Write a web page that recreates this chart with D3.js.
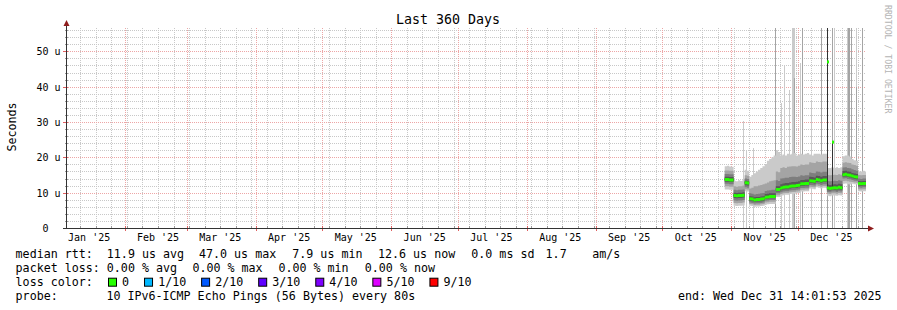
<!DOCTYPE html>
<html><head><meta charset="utf-8">
<script src="https://cdn.jsdelivr.net/npm/d3@7"></script>
<style>
html,body{margin:0;padding:0;background:#fff;}
svg text{font-family:"DejaVu Sans Mono",monospace;white-space:pre;fill:#000;}
</style></head><body>
<svg id="c" width="897" height="310"></svg>
<script>
// ---------------- data ----------------
const title = "Last 360 Days";
const yAxisTitle = "Seconds";
const watermark = "RRDTOOL / TOBI OETIKER";
const startTime = Date.UTC(2025,0,5,14,1,53);
const endTime = Date.UTC(2025,11,31,14,1,53);
const firstDay = Date.UTC(2025,9,29);          // first daily sample (Oct 29)
const yMax = 56.6;
const yTicks = [0,10,20,30,40,50];
const yTickLabels = ["0  ","10 u","20 u","30 u","40 u","50 u"];

// median rtt per day (us)
const med = [13.7,13.7,13.6,13.6, 9.2,9.1,9.2,9.2,9.3, 12.8,12.7, 8.3,8.2,7.9,8.1,8.1,8.2,8.3, 8.7,8.8,8.9,8.9,8.9, 10.9,10.9, 11.3,11.5,11.6,11.6,11.8,11.9,11.9, 12.0,12.1,12.5,12.5,12.6,12.6, 13.4,13.3,13.2, 13.7,13.6,13.4,13.6, 13.6, 11.3,11.2,11.3,11.4,11.3,11.5,11.4, 15.1,15.2,15.0,14.9, 14.7,14.5,14.4, 12.6,12.5,12.6,12.6];
// sorted ping values per day (p1 = fastest ... p10 = slowest)
const p1 = [10.9,10.9,10.8,10.8, 6.3,6.2,6.3,6.3,6.4, 10.4,10.3, 6.3,6.2,6.0,6.1,6.1,6.2,6.3, 6.6,6.7,6.8,6.8,6.8, 8.8,8.8, 9.1,9.3,9.4,9.4,9.6,9.7,9.7, 9.8,9.9,10.3,10.3,10.4,10.4, 11.2,11.1,11.0, 11.5,11.4,11.2,11.4, 11.4, 9.1,9.0,9.2,9.2,9.1,9.3,9.2, 12.5,12.6,12.4,12.3, 12.5,12.4,12.3, 10.4,10.3,10.4,10.4];
const p2 = [11.8,11.8,11.7,11.7, 7.1,7.0,7.1,7.1,7.2, 11.0,10.9, 6.8,6.7,6.5,6.6,6.6,6.7,6.8, 7.2,7.3,7.4,7.4,7.4, 9.3,9.3, 9.6,9.8,9.9,9.9,10.1,10.2,10.2, 10.3,10.4,10.8,10.8,10.9,10.9, 11.7,11.6,11.5, 12.0,11.9,11.7,11.9, 11.9, 9.7,9.6,9.8,9.8,9.7,9.9,9.8, 13.3,13.4,13.2,13.1, 13.0,12.9,12.8, 11.0,10.9,11.0,11.0];
const p3 = [12.5,12.5,12.4,12.4, 7.8,7.7,7.8,7.8,7.9, 11.5,11.4, 7.2,7.1,6.9,7.0,7.0,7.1,7.2, 7.7,7.8,7.9,7.9,7.9, 9.8,9.8, 10.1,10.3,10.4,10.4,10.6,10.7,10.7, 10.8,10.9,11.3,11.3,11.4,11.4, 12.2,12.1,12.0, 12.5,12.4,12.2,12.4, 12.4, 10.2,10.1,10.3,10.3,10.2,10.4,10.3, 14.0,14.1,13.9,13.8, 13.6,13.4,13.3, 11.5,11.4,11.5,11.5];
const p4 = [13.1,13.1,13.0,13.0, 8.5,8.4,8.5,8.5,8.6, 12.1,12.0, 7.7,7.6,7.4,7.5,7.5,7.6,7.7, 8.2,8.3,8.4,8.4,8.4, 10.3,10.3, 10.7,10.9,11.0,11.0,11.2,11.3,11.3, 11.4,11.5,11.9,11.9,12.0,12.0, 12.8,12.7,12.6, 13.1,13.0,12.8,13.0, 13.0, 10.7,10.6,10.9,10.8,10.7,10.9,10.8, 14.5,14.6,14.4,14.3, 14.1,13.9,13.8, 12.0,11.9,12.0,12.0];
const p5 = [13.5,13.5,13.4,13.4, 9.0,8.9,9.0,9.0,9.1, 12.6,12.5, 8.1,8.0,7.7,7.9,7.9,8.0,8.1, 8.5,8.6,8.7,8.7,8.7, 10.7,10.7, 11.1,11.3,11.4,11.4,11.6,11.7,11.7, 11.8,11.9,12.3,12.3,12.4,12.4, 13.2,13.1,13.0, 13.5,13.4,13.2,13.4, 13.4, 11.1,11.0,11.3,11.2,11.1,11.3,11.2, 14.9,15.0,14.8,14.7, 14.5,14.3,14.2, 12.4,12.3,12.4,12.4];
const p6 = [14.0,14.0,13.9,13.9, 9.5,9.4,9.5,9.5,9.6, 13.1,13.0, 8.6,8.5,8.2,8.4,8.4,8.5,8.6, 9.0,9.1,9.2,9.2,9.2, 11.2,11.2, 11.6,11.8,11.9,11.9,12.1,12.2,12.2, 12.3,12.4,12.8,12.8,12.9,12.9, 13.7,13.6,13.5, 14.0,13.9,13.7,13.9, 13.9, 11.6,11.5,11.7,11.7,11.6,11.8,11.7, 15.4,15.5,15.3,15.2, 15.0,14.8,14.7, 12.9,12.8,12.9,12.9];
const p7 = [14.5,14.5,14.4,14.4, 10.0,9.9,10.0,10.0,10.1, 13.4,13.3, 9.0,8.9,8.7,8.8,8.8,8.9,9.0, 9.6,9.7,9.8,9.8,9.8, 11.8,11.8, 12.4,12.6,12.7,12.7,12.9,13.0,13.0, 13.1,13.2,13.6,13.6,13.7,13.7, 14.5,14.4,14.3, 14.8,14.7,14.5,14.7, 14.7, 12.3,12.2,12.3,12.4,12.3,12.5,12.4, 16.1,16.2,16.0,15.9, 15.6,15.4,15.3, 13.3,13.2,13.3,13.3];
const p8 = [15.3,15.3,15.2,15.2, 10.8,10.7,10.8,10.8,10.9, 14.0,13.9, 9.8,9.7,9.5,9.6,9.7,9.8,9.9, 10.5,10.6,10.7,10.8,10.8, 13.5,13.3, 14.0,14.1,14.2,14.2,14.4,14.5,14.5, 14.4,14.6,14.9,14.8,14.9,14.9, 15.7,15.6,15.5, 16.0,15.9,15.7,15.9, 15.9, 13.3,13.2,13.3,13.4,13.3,13.5,13.4, 17.1,17.2,17.0,16.9, 16.6,16.4,16.2, 14.0,13.9,14.0,14.0];
const p9 = [16.3,16.3,16.2,16.2, 11.8,11.7,11.8,11.8,12.0, 14.9,14.8, 11.2,11.4,11.8,11.8,12.0,12.2,12.4, 12.6,12.9,13.2,13.4,13.5, 16.0,15.8, 17.0,17.2,17.0,17.3,17.4,17.5,17.5, 17.4,17.6,18.0,17.8,18.0,18.0, 18.6,18.5,18.4, 18.8,18.7,18.6,18.8, 18.8, 15.0,14.9,15.0,15.1,15.0,15.2,15.1, 18.5,18.6,18.5,18.4, 18.0,17.8,17.6, 15.0,14.9,15.0,15.0];
const p10 = [17.5,17.6,17.4,17.3, 13.4,13.2,13.5,13.3,13.6, 16.5,16.2, 14.5,15.0,15.5,16.0,16.5,17.0,17.5, 18.0,19.0,19.5,20.0,20.5, 22.0,21.5, 20.5,20.8,20.5,21.0,20.8,21.0,21.2, 20.5,20.8,21.0,20.8,21.0,21.2, 20.8,20.5,21.0, 21.0,21.0,20.8,21.0, 21.0, 17.0,17.0,17.2,17.0,17.2,17.0,17.2, 20.3,20.5,20.5,20.2, 19.5,19.2,19.0, 16.0,16.0,16.2,16.0];

// short-lived outliers (single consolidation rows)
const spikeTime = ["2025-11-06T09:00Z","2025-11-07T21:00Z","2025-11-10T21:00Z","2025-11-20T21:00Z","2025-11-23T18:00Z","2025-11-24T17:00Z","2025-11-27T07:00Z","2025-11-28T12:00Z","2025-11-29T00:00Z","2025-11-29T12:00Z","2025-12-02T00:00Z","2025-12-02T22:00Z","2025-12-07T01:00Z","2025-12-11T11:00Z","2025-12-14T01:00Z","2025-12-16T10:00Z","2025-12-17T10:00Z","2025-12-23T06:00Z","2025-12-23T18:00Z","2025-12-24T06:00Z","2025-12-25T05:00Z","2025-12-27T03:00Z","2025-12-29T19:00Z"];
const spikeTop  = [30.2,21.7,22.7,60,35.4,46.0,39.1,60,60,60,46.8,60,35.9,60,60,60,60,60,60,60,60,60,60];
const spikeMid  = [0,0,0,60,0,0,0,0,0,42.5,0,60,0,60,60,60,0,0,60,60,60,40,60];
const spikeDarkLo = [0,0,0,0,0,0,0,0,0,0,0,0,0,0,10.9,11.0,0,0,0,0,0,0,0];
const spikeDarkHi = [0,0,0,0,0,0,0,0,0,0,0,0,0,0,60,24.3,0,0,0,0,0,0,0];
const spikeMed  = [0,0,0,0,0,0,0,0,0,0,0,0,0,0,47.0,24.3,0,0,0,0,0,0,0];

const smokeColors = ["#cacaca","#a4a4a4","#7e7e7e","#585858","#323232"];
const lossLabels = ["0","1/10","2/10","3/10","4/10","5/10","9/10"];
const lossColors = ["#26ff00","#00b8ff","#0059ff","#5e00ff","#7e00ff","#dd00ff","#ff0000"];
const legendRow1 = ["median rtt:  11.9 us avg","47.0 us max","7.9 us min","12.6 us now","0.0 ms sd","1.7","am/s"];
const legendRow2 = ["packet loss: 0.00 % avg","0.00 % max","0.00 % min","0.00 % now"];
const legendRow3Head = "loss color:";
const probeHead = "probe:";
const probeText = "10 IPv6-ICMP Echo Pings (56 Bytes) every 80s";
const endText = "end: Wed Dec 31 14:01:53 2025";

// ---------------- layout ----------------
const X0 = 66, X1 = 866, Y0 = 228, Y1 = 28;
const svg = d3.select("#c");
const x = d3.scaleUtc().domain([new Date(startTime), new Date(endTime)]).range([X0, X1]);
const y = d3.scaleLinear().domain([0, yMax]).range([Y0, Y1]);
const px = v => Math.round(v) + 0.5;

const gridMinor = "#c8c8c8", gridMajor = "#eda6a6";

// grid
const g = svg.append("g");
const minorY = d3.range(2, yMax, 2).filter(v => v % 10 !== 0);
g.selectAll(".hm").data(minorY).enter().append("line")
  .attr("x1", X0).attr("x2", X1).attr("y1", d => px(y(d))).attr("y2", d => px(y(d)))
  .attr("stroke", gridMinor).attr("stroke-dasharray", "1,1");
const weeks = d3.utcSunday.range(new Date(startTime), new Date(endTime));
g.selectAll(".vm").data(weeks).enter().append("line")
  .attr("x1", d => px(x(d))).attr("x2", d => px(x(d))).attr("y1", Y1).attr("y2", Y0)
  .attr("stroke", gridMinor).attr("stroke-dasharray", "1,1");
const majorY = yTicks.filter(v => v > 0);
g.selectAll(".hM").data(majorY).enter().append("line")
  .attr("x1", X0).attr("x2", X1).attr("y1", d => px(y(d))).attr("y2", d => px(y(d)))
  .attr("stroke", gridMajor).attr("stroke-dasharray", "1,1");
const months = d3.utcMonth.range(new Date(startTime), new Date(endTime));
g.selectAll(".vM").data(months).enter().append("line")
  .attr("x1", d => px(x(d))).attr("x2", d => px(x(d))).attr("y1", Y1).attr("y2", Y0)
  .attr("stroke", gridMajor).attr("stroke-dasharray", "1,1");

// plot area
svg.append("defs").append("clipPath").attr("id", "pc")
  .append("rect").attr("x", X0).attr("y", Y1).attr("width", X1 - X0).attr("height", Y0 - Y1);
const plot = svg.append("g").attr("clip-path", "url(#pc)");
const spikes = spikeTime.map((t, i) => ({t: new Date(t), top: spikeTop[i], mid: spikeMid[i],
  dlo: spikeDarkLo[i], dhi: spikeDarkHi[i], m: spikeMed[i]}));
const sx = d => Math.floor(x(d.t));

// outlier columns (behind the daily smoke)
plot.selectAll(".sl").data(spikes).enter().append("rect")
  .attr("x", sx).attr("width", 1).attr("y", d => y(d.top)).attr("height", d => y(0) - y(d.top))
  .attr("fill", smokeColors[0]).attr("shape-rendering", "crispEdges");
plot.selectAll(".sm").data(spikes.filter(d => d.mid > 0)).enter().append("rect")
  .attr("x", sx).attr("width", 1).attr("y", d => y(d.mid)).attr("height", d => y(0) - y(d.mid))
  .attr("fill", smokeColors[1]).attr("shape-rendering", "crispEdges");

// daily smoke
const days = med.map((_, i) => new Date(firstDay + i * 864e5));
function pts(lo, hi) {
  const a = lo.map((v, i) => ({t: days[i], lo: v, hi: hi[i]}));
  a.push({t: new Date(endTime), lo: lo[lo.length - 1], hi: hi[hi.length - 1]});
  return a;
}
const area = d3.area().x(d => x(d.t)).y0(d => y(d.lo)).y1(d => y(d.hi)).curve(d3.curveStepAfter);
const pairs = [[p1, p10], [p2, p9], [p3, p8], [p4, p7], [p5, p6]];
pairs.forEach((pr, i) => {
  plot.append("path").attr("d", area(pts(pr[0], pr[1]))).attr("fill", smokeColors[i]);
});
// dark outlier parts
plot.selectAll(".sd").data(spikes.filter(d => d.dhi > 0)).enter().append("rect")
  .attr("x", sx).attr("width", 1).attr("y", d => y(d.dhi)).attr("height", d => y(d.dlo) - y(d.dhi))
  .attr("fill", smokeColors[4]).attr("shape-rendering", "crispEdges");
// median marker
const medArea = d3.area().x(d => x(d.t)).y0(d => y(d.lo) + 1.5).y1(d => y(d.hi) - 1.5).curve(d3.curveStepAfter);
plot.append("path").attr("d", medArea(pts(med, med))).attr("fill", lossColors[0]);
plot.selectAll(".smd").data(spikes.filter(d => d.m > 0)).enter().append("rect")
  .attr("x", sx).attr("width", 2).attr("y", d => y(d.m) - 1.5).attr("height", 3)
  .attr("fill", lossColors[0]);

// axes
const axisCol = "#333", arrowCol = "#8f1d1d";
svg.selectAll(".xtm").data(weeks).enter().append("line")
  .attr("x1", d => px(x(d))).attr("x2", d => px(x(d))).attr("y1", Y0 - 2).attr("y2", Y0 + 1)
  .attr("stroke", "#999");
svg.selectAll(".xtM").data(months).enter().append("line")
  .attr("x1", d => px(x(d))).attr("x2", d => px(x(d))).attr("y1", Y0 - 2).attr("y2", Y0 + 3)
  .attr("stroke", "#e06060");
svg.selectAll(".ytm").data(minorY).enter().append("line")
  .attr("x1", X0 - 1).attr("x2", X0 + 2).attr("y1", d => px(y(d))).attr("y2", d => px(y(d)))
  .attr("stroke", "#999");
svg.selectAll(".ytM").data(yTicks).enter().append("line")
  .attr("x1", X0 - 3).attr("x2", X0 + 2).attr("y1", d => px(y(d))).attr("y2", d => px(y(d)))
  .attr("stroke", d => d === 0 ? axisCol : "#e06060");
svg.append("line").attr("x1", X0).attr("x2", X1 + 3).attr("y1", Y0 + 0.5).attr("y2", Y0 + 0.5).attr("stroke", axisCol);
svg.append("line").attr("x1", X0 + 0.5).attr("x2", X0 + 0.5).attr("y1", Y0 + 1).attr("y2", Y1 - 4).attr("stroke", axisCol);
svg.append("path").attr("d", `M${X1 + 2},${Y0 - 2.5}L${X1 + 2},${Y0 + 3.5}L${X1 + 8},${Y0 + 0.5}Z`).attr("fill", arrowCol);
svg.append("path").attr("d", `M${X0 - 2.5},${Y1 - 2}L${X0 + 3.5},${Y1 - 2}L${X0 + 0.5},${Y1 - 8}Z`).attr("fill", arrowCol);

// y labels
svg.selectAll(".yl").data(yTicks).enter().append("text")
  .attr("x", 60.5).attr("y", d => px(y(d)) + 3.5).attr("text-anchor", "end")
  .attr("font-size", "10px").text((d, i) => yTickLabels[i]);
// x labels (centered at month start + 15 days)
const fmt = d3.utcFormat("%b '%y");
const labelMonths = d3.utcMonth.range(d3.utcMonth.floor(new Date(startTime)), new Date(endTime))
  .filter(m => { const t = d3.utcDay.offset(m, 15); return t >= startTime && t <= endTime; });
svg.selectAll(".xl").data(labelMonths).enter().append("text")
  .attr("x", d => x(d3.utcDay.offset(d, 15))).attr("y", 241).attr("text-anchor", "middle")
  .attr("font-size", "10px").text(d => fmt(d));

// title & side texts
svg.append("text").attr("x", 448).attr("y", 24).attr("text-anchor", "middle")
  .attr("font-size", "13.3px").text(title);
svg.append("text").attr("transform", "translate(16,127) rotate(-90)").attr("text-anchor", "middle")
  .attr("font-size", "11.67px").text(yAxisTitle);
svg.append("text").attr("transform", "translate(885,5) rotate(90)").attr("text-anchor", "start")
  .attr("font-size", "8.2px").style("fill", "#b4b4b4").text(watermark);

// legend
const LF = "11.67px";
const row1X = [15.6, 199, 292.3, 378, 471.3, 545.6, 592.3];
legendRow1.forEach((s, i) => svg.append("text").attr("x", row1X[i]).attr("y", 258.3).attr("font-size", LF).text(s));
const row2X = [15.6, 192.4, 278.4, 364.8];
legendRow2.forEach((s, i) => svg.append("text").attr("x", row2X[i]).attr("y", 272.3).attr("font-size", LF).text(s));
svg.append("text").attr("x", 15.6).attr("y", 286.3).attr("font-size", LF).text(legendRow3Head);
let bx = 108.5;
lossLabels.forEach((s, i) => {
  svg.append("rect").attr("x", bx).attr("y", 278.2).attr("width", 8).attr("height", 8)
    .attr("fill", lossColors[i]).attr("stroke", "#000").attr("stroke-width", 1);
  const t = svg.append("text").attr("x", bx + 13.6).attr("y", 286.3).attr("font-size", LF).text(s);
  bx = bx + 13.6 + t.node().getComputedTextLength() + 15.4;
});
svg.append("text").attr("x", 15.6).attr("y", 300.3).attr("font-size", LF).text(probeHead);
svg.append("text").attr("x", 106.4).attr("y", 300.3).attr("font-size", LF).text(probeText);
svg.append("text").attr("x", 881.5).attr("y", 300.3).attr("text-anchor", "end").attr("font-size", LF).text(endText);
</script>
</body></html>
